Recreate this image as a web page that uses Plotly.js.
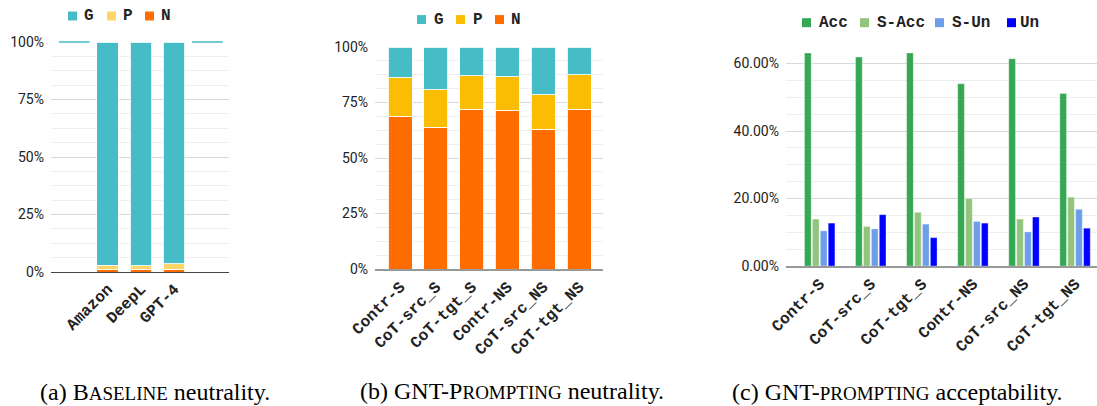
<!DOCTYPE html>
<html><head><meta charset="utf-8">
<script src="https://cdn.plot.ly/plotly-3.0.1.min.js"></script>
<style>
html,body{margin:0;padding:0;background:#fff;overflow:hidden;width:1097px;height:406px}
.panel{position:absolute;top:0;height:406px}
</style></head><body>
<div id="pa" class="panel" style="left:0;width:330px"></div>
<div id="pb" class="panel" style="left:330px;width:370px"></div>
<div id="pc" class="panel" style="left:700px;width:397px"></div>
<script>
// ---------- data ----------
// (a) BASELINE neutrality (percent of outputs)
const baselineSystems = ["Amazon", "DeepL", "GPT-4"];
const baselineN = [1.0, 1.2, 1.3];
const baselineP = [2.0, 1.5, 2.2];
const baselineG = [97.0, 97.3, 96.5];
const baselinePadCats = ["pad-left", "pad-right"];
const baselinePadG = [100, 100];

// (b) GNT-PROMPTING neutrality
const promptSettings = ["Contr-S", "CoT-src_S", "CoT-tgt_S", "Contr-NS", "CoT-src_NS", "CoT-tgt_NS"];
const promptN = [68.8, 63.9, 72.0, 71.4, 63.0, 72.0];
const promptP = [17.4, 16.9, 15.1, 15.3, 15.6, 15.6];
const promptG = [13.8, 19.2, 12.9, 13.3, 21.4, 12.4];

// (c) GNT-PROMPTING acceptability
const accValues  = [63.1, 61.9, 63.1, 54.0, 61.4, 51.1];
const sAccValues = [13.9, 11.7, 15.9, 20.0, 13.9, 20.4];
const sUnValues  = [10.4, 11.0, 12.4, 13.2, 10.1, 16.8];
const unValues   = [12.7, 15.2, 8.4, 12.7, 14.5, 11.2];

const neutralityLabels = ["G", "P", "N"];
const acceptLabels = ["Acc", "S-Acc", "S-Un", "Un"];

// ---------- styling ----------
const C = {G: "#46BDC6", Pa: "#FFD666", Pb: "#FBBC04", N: "#FF6D01",
           Acc: "#34A853", SAcc: "#93C47D", SUn: "#6D9EEB", Un: "#0000FF"};
const monoFont = {family: "Liberation Mono, monospace", size: 16, color: "#222", weight: 700};
const tickFont = {family: "Roboto, Arial, sans-serif", size: 14, color: "#222"};
const capFont = {family: "Liberation Serif, Times New Roman, serif", size: 24, color: "#000"};
const SC = 19; // small-caps size
const H = 406;
const cfg = {staticPlot: true, displayModeBar: false};

function mapper(panelLeft, W, m) {
  const pw = W - m.l - m.r, ph = H - m.t - m.b;
  return {x: px => (px - panelLeft - m.l) / pw, y: py => (H - m.b - py) / ph};
}
function legendItems(map, labels, colors, sqX, txtX, cy) {
  const shapes = [], anns = [];
  labels.forEach((lab, i) => {
    shapes.push({type: "rect", xref: "paper", yref: "paper",
      x0: map.x(sqX[i]), x1: map.x(sqX[i] + 9), y0: map.y(cy + 4.5), y1: map.y(cy - 4.5),
      fillcolor: colors[i], line: {width: 0}});
    anns.push({xref: "paper", yref: "paper", x: map.x(txtX[i] - 1), y: map.y(cy),
      xanchor: "left", yanchor: "middle", showarrow: false, text: lab, font: monoFont});
  });
  return {shapes, anns};
}
function caption(map, cx, text) {
  return {xref: "paper", yref: "paper", x: map.x(cx), y: map.y(392), xanchor: "center",
    yanchor: "middle", showarrow: false, text: text, font: capFont};
}
const sc = s => '<span style="font-size:' + SC + 'px">' + s + '</span>';
const barLine = {color: "rgba(255,255,255,0.85)", width: 1};

// ---------- panel (a) ----------
(function () {
  const W = 330, m = {l: 51, r: 101, t: 42, b: 134};
  const map = mapper(0, W, m);
  const cats = [baselinePadCats[0], ...baselineSystems, baselinePadCats[1]];
  const lg = legendItems(map, neutralityLabels, [C.G, C.Pa, C.N], [68, 107, 145], [83, 122, 160], 16);
  const traces = [
    {type: "bar", name: "N", x: baselineSystems, y: baselineN, marker: {color: C.N, line: barLine}},
    {type: "bar", name: "P", x: baselineSystems, y: baselineP, marker: {color: C.Pa, line: barLine}},
    {type: "bar", name: "G", x: baselineSystems, y: baselineG, marker: {color: C.G, line: barLine}},
    {type: "scatter", mode: "markers", x: baselinePadCats, y: baselinePadG, cliponaxis: false,
     marker: {symbol: "line-ew", size: 22, color: C.G, line: {color: C.G, width: 1.5}}}
  ];
  const layout = {
    width: W, height: H, margin: m, showlegend: false, barmode: "stack", bargap: 0.35,
    paper_bgcolor: "#fff", plot_bgcolor: "#fff",
    xaxis: {type: "category", categoryorder: "array", categoryarray: cats, range: [-0.7, 4.65],
      tickmode: "array", tickvals: baselineSystems, ticktext: baselineSystems, tickangle: -45,
      tickfont: monoFont, showgrid: false, showline: true, linecolor: "#444", linewidth: 1.3, ticks: ""},
    yaxis: {range: [0, 100], tick0: 0, dtick: 25, ticksuffix: "%", tickfont: tickFont,
      gridcolor: "#d9d9d9", gridwidth: 1, zeroline: false, ticklabelstandoff: 6,
      minor: {dtick: 6.25, showgrid: true, gridcolor: "#eeeeee", gridwidth: 1}},
    shapes: lg.shapes,
    annotations: [...lg.anns, caption(map, 155, '(a) B' + sc('ASELINE') + ' neutrality.')]
  };
  Plotly.newPlot("pa", traces, layout, cfg);
})();

// ---------- panel (b) ----------
(function () {
  const W = 370, left = 330, m = {l: 45, r: 97, t: 47, b: 136.5};
  const map = mapper(left, W, m);
  const lg = legendItems(map, neutralityLabels, [C.G, C.Pb, C.N], [417, 456, 495], [433, 472, 510], 19.5);
  const traces = [
    {type: "bar", name: "N", x: promptSettings, y: promptN, marker: {color: C.N, line: barLine}},
    {type: "bar", name: "P", x: promptSettings, y: promptP, marker: {color: C.Pb, line: barLine}},
    {type: "bar", name: "G", x: promptSettings, y: promptG, marker: {color: C.G, line: barLine}}
  ];
  const layout = {
    width: W, height: H, margin: m, showlegend: false, barmode: "stack", bargap: 0.33,
    paper_bgcolor: "#fff", plot_bgcolor: "#fff",
    xaxis: {type: "category", range: [-0.7, 5.67], tickangle: -45, tickfont: monoFont,
      showgrid: false, showline: true, linecolor: "#999", linewidth: 2, ticks: ""},
    yaxis: {range: [0, 100], tick0: 0, dtick: 25, ticksuffix: "%", tickfont: tickFont,
      gridcolor: "#d9d9d9", gridwidth: 1, zeroline: false, ticklabelstandoff: 6,
      minor: {dtick: 6.25, showgrid: true, gridcolor: "#eeeeee", gridwidth: 1}},
    shapes: lg.shapes,
    annotations: [...lg.anns, caption(map, 512, '(b) GNT-P' + sc('ROMPTING') + ' neutrality.')]
  };
  Plotly.newPlot("pb", traces, layout, cfg);
})();

// ---------- panel (c) ----------
(function () {
  const W = 397, left = 700, m = {l: 86, r: 0, t: 49.8, b: 140.3};
  const map = mapper(left, W, m);
  const cols = [C.Acc, C.SAcc, C.SUn, C.Un];
  const lg = legendItems(map, acceptLabels, cols, [802, 860, 935, 1007], [818, 876, 951, 1019], 22.5);
  const series = [accValues, sAccValues, sUnValues, unValues];
  const traces = series.map((v, i) => ({type: "bar", name: acceptLabels[i], x: promptSettings, y: v,
    marker: {color: cols[i], line: {color: "rgba(255,255,255,0.6)", width: 0.5}}}));
  const layout = {
    width: W, height: H, margin: m, showlegend: false, barmode: "group", bargap: 0.38, bargroupgap: 0.16,
    paper_bgcolor: "#fff", plot_bgcolor: "#fff",
    xaxis: {type: "category", range: [-0.66, 5.43], tickangle: -45, tickfont: monoFont,
      showgrid: false, showline: true, linecolor: "#999", linewidth: 2, ticks: ""},
    yaxis: {range: [0, 64], dtick: 20, tickformat: ".2f", ticksuffix: "%", tickfont: tickFont,
      gridcolor: "#d9d9d9", gridwidth: 1, zeroline: false, ticklabelstandoff: 6,
      minor: {dtick: 5, showgrid: true, gridcolor: "#eeeeee", gridwidth: 1}},
    shapes: lg.shapes,
    annotations: [...lg.anns, caption(map, 897, '(c) GNT-' + sc('PROMPTING') + ' acceptability.')]
  };
  Plotly.newPlot("pc", traces, layout, cfg);
})();
</script>
</body></html>
